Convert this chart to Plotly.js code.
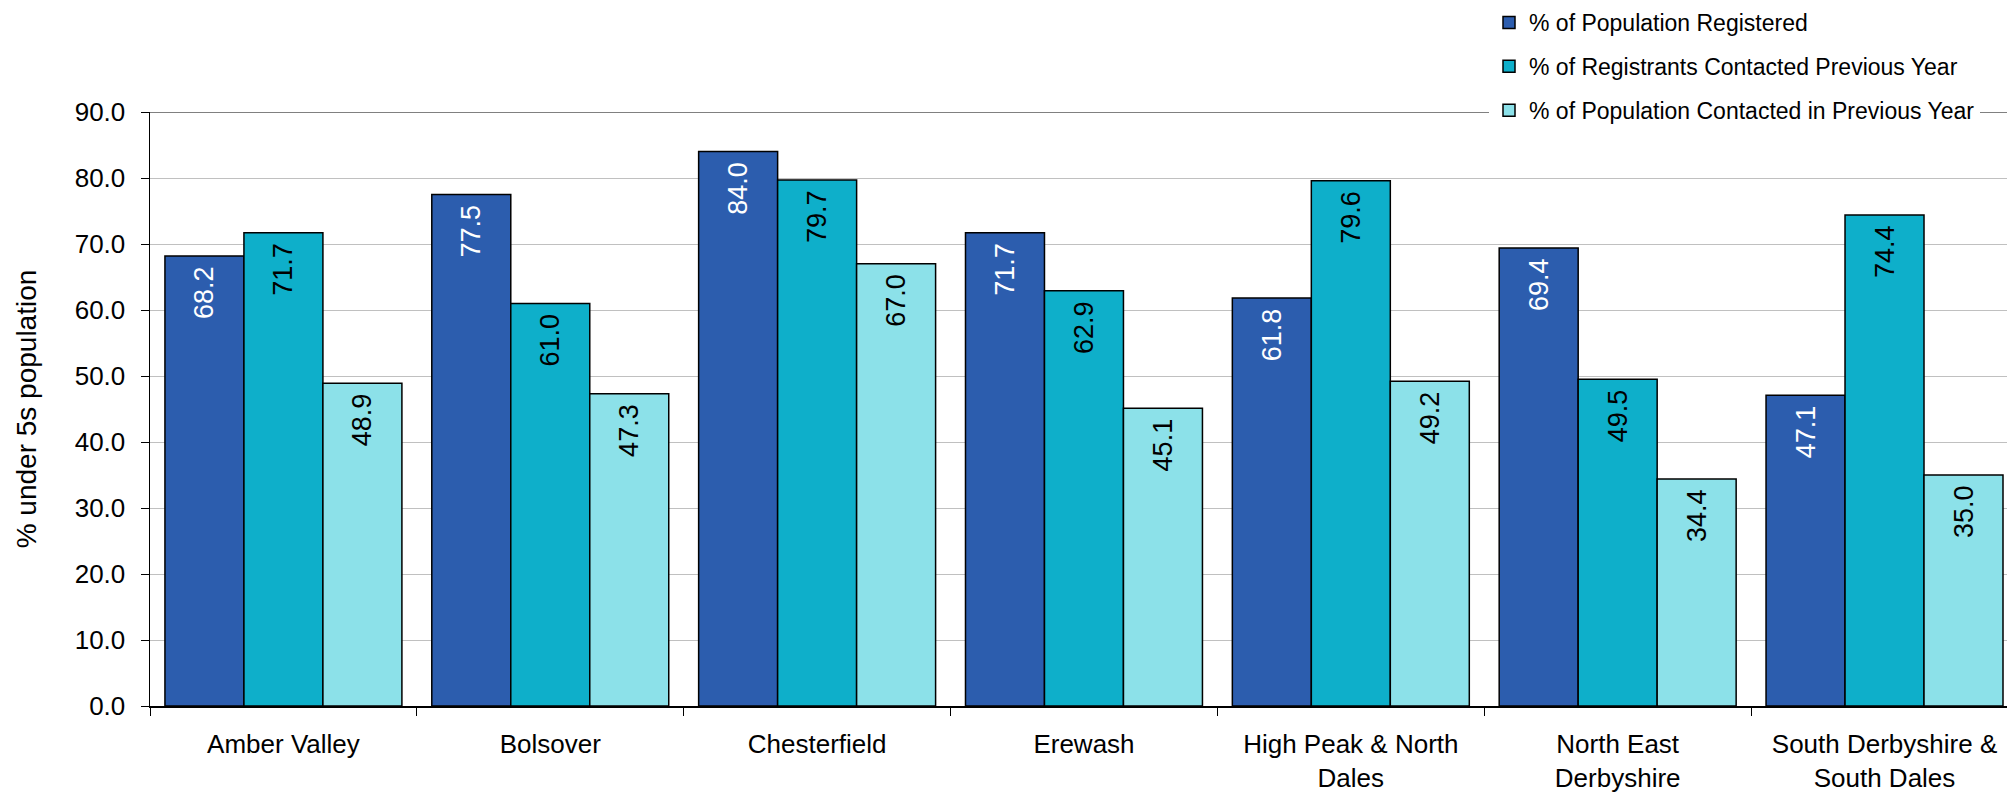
<!DOCTYPE html>
<html>
<head>
<meta charset="utf-8">
<script src="https://cdn.plot.ly/plotly-3.0.1.min.js"></script>
<style>html,body{margin:0;padding:0;background:#fff;}#chart{width:2007px;height:796px;}</style>
</head>
<body>
<div id="chart"></div>
<script>
const categories = [
  "Amber Valley",
  "Bolsover",
  "Chesterfield",
  "Erewash",
  "High Peak & North<br>Dales",
  "North East<br>Derbyshire",
  "South Derbyshire &<br>South Dales"
];
const seriesNames = [
  "% of Population Registered",
  "% of Registrants Contacted Previous Year",
  "% of Population Contacted in Previous Year"
];
const populationRegistered = [68.2, 77.5, 84.0, 71.7, 61.8, 69.4, 47.1];
const registrantsContacted = [71.7, 61.0, 79.7, 62.9, 79.6, 49.5, 74.4];
const populationContacted = [48.9, 47.3, 67.0, 45.1, 49.2, 34.4, 35.0];
const yTickVals = [0, 10, 20, 30, 40, 50, 60, 70, 80, 90];
const yAxisTitle = "% under 5s population";

const FONT = "'Liberation Sans', Arial, Helvetica, sans-serif";
const colors = ["#2C5DAE", "#0EAFCA", "#8CE1E9"];
const textColors = ["#ffffff", "#000000", "#000000"];
const seriesValues = [populationRegistered, registrantsContacted, populationContacted];

const traces = seriesValues.map((vals, i) => ({
  type: "bar",
  name: seriesNames[i],
  legendgroup: "g" + i,
  x: categories,
  y: vals,
  marker: { color: colors[i], line: { color: "#000000", width: 1.5 } },
  texttemplate: "%{y:.1f}\u00a0",
  textposition: "inside",
  insidetextanchor: "end",
  textangle: -90,
  textfont: { family: FONT, size: 27, color: textColors[i] },
  constraintext: "none",
  hoverinfo: "skip"
}));

const W = 2007, H = 796, ML = 150, MR = 0, MT = 112, MB = 90;
const plotW = W - ML - MR, plotH = H - MT - MB;

const layout = {
  width: W,
  height: H,
  margin: { l: ML, r: MR, t: MT, b: MB, pad: 0 },
  paper_bgcolor: "#ffffff",
  plot_bgcolor: "#ffffff",
  font: { family: FONT, color: "#000000" },
  barmode: "group",
  bargap: 0.112,
  bargroupgap: 0,
  showlegend: true,
  legend: {
    xref: "paper", yref: "paper",
    x: (1489 - ML) / plotW, y: (H - MB - 1) / plotH, xanchor: "left", yanchor: "top",
    bgcolor: "#ffffff",
    borderwidth: 0,
    font: { family: FONT, size: 23, color: "#000000" },
    traceorder: "grouped",
    tracegroupgap: 11,
    itemwidth: 30
  },
  xaxis: {
    type: "category",
    range: [-0.5, 6.459],
    showline: true, linecolor: "#000000", linewidth: 1.5,
    ticks: "outside", tickson: "boundaries", ticklen: 8, tickcolor: "#000000", tickwidth: 1,
    showgrid: false, zeroline: false,
    tickangle: 0,
    tickfont: { family: FONT, size: 26, color: "#000000" },
    ticklabelstandoff: 14,
    automargin: false,
    fixedrange: true
  },
  yaxis: {
    range: [0, 90],
    tickvals: yTickVals,
    tickformat: ".1f",
    showline: true, linecolor: "#000000", linewidth: 1.5,
    ticks: "outside", ticklen: 8, tickcolor: "#000000", tickwidth: 1,
    showgrid: true, gridcolor: "#c0c0c0", gridwidth: 1,
    zeroline: false,
    tickfont: { family: FONT, size: 26, color: "#000000" },
    ticklabelstandoff: 10,
    title: { text: yAxisTitle, font: { family: FONT, size: 28, color: "#000000" }, standoff: 30 },
    automargin: false,
    fixedrange: true
  },
  shapes: [{
    type: "line", xref: "paper", yref: "y",
    x0: 0, x1: 1, y0: 90, y1: 90,
    line: { color: "#808080", width: 2 },
    layer: "below"
  }]
};

Plotly.newPlot("chart", traces, layout, { displayModeBar: false, staticPlot: true });
</script>
</body>
</html>
